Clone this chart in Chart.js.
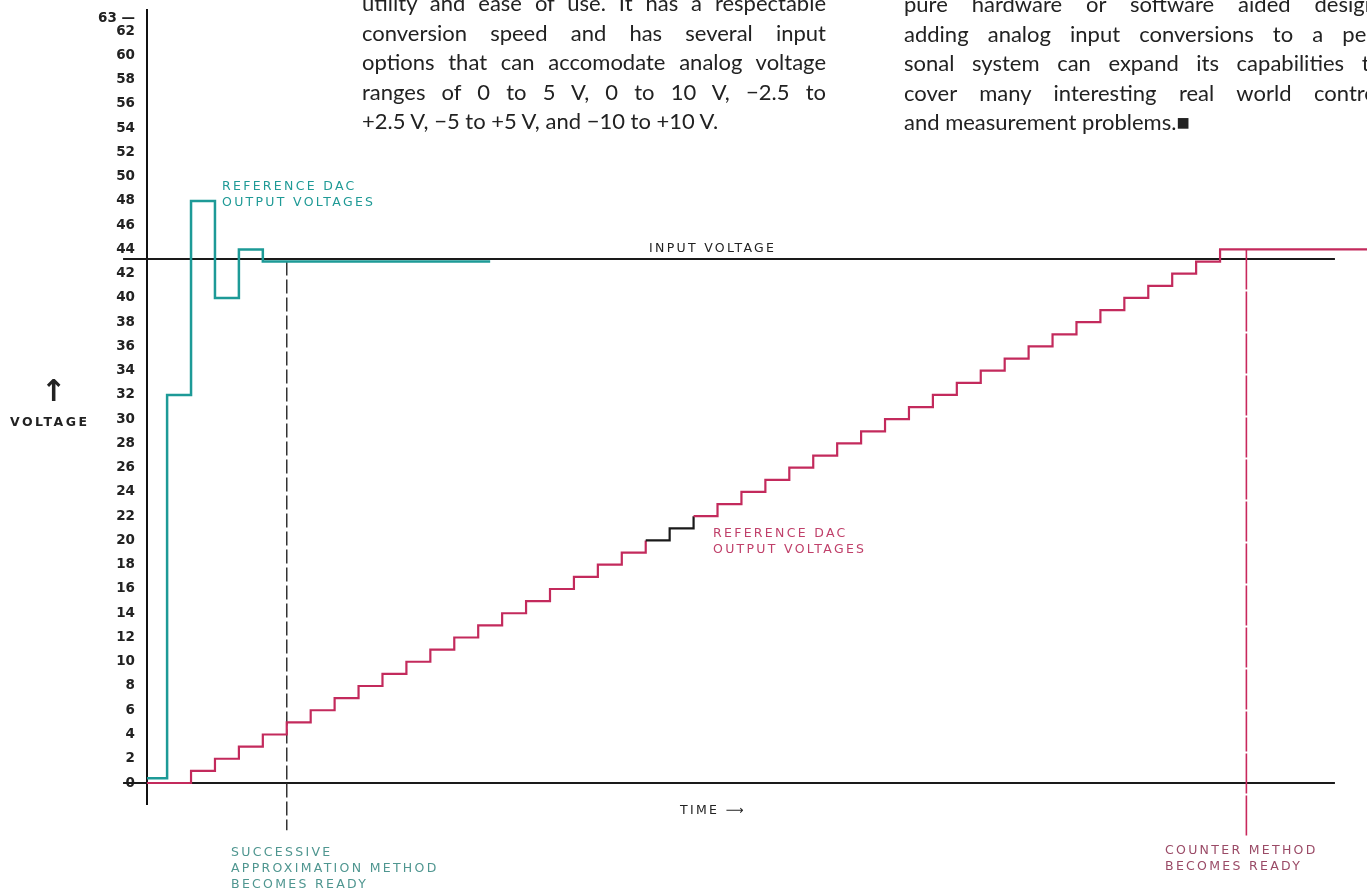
<!DOCTYPE html>
<html>
<head>
<meta charset="utf-8">
<script src="https://cdn.jsdelivr.net/npm/chart.js@4/dist/chart.umd.min.js"></script>
<style>
  html, body { margin: 0; padding: 0; background: #fff; }
  body { width: 1367px; height: 891px; overflow: hidden; position: relative; }
  canvas { position: absolute; left: 0; top: 0; }
  .lbl { position: absolute; font-family: "DejaVu Sans", sans-serif; font-size: 12.5px; letter-spacing: 2.3px; line-height: 16px; white-space: nowrap; }
  .body { position: absolute; font-family: "Lato", sans-serif; font-size: 22px; line-height: 29.5px; color: #222; }
  .body div { text-align: justify; text-align-last: justify; white-space: nowrap; }
  .body div.last { text-align-last: left; }
</style>
</head>
<body>
<canvas id="c" width="1367" height="891"></canvas>

<div class="body" style="left:362px; top:-12px; width:464px;">
  <div>utility and ease of use. It has a respectable</div>
  <div>conversion speed and has several input</div>
  <div>options that can accomodate analog voltage</div>
  <div>ranges of 0 to 5 V, 0 to 10 V, &minus;2.5 to</div>
  <div class="last">+2.5 V, &minus;5 to +5 V, and &minus;10 to +10 V.</div>
</div>
<div class="body" style="left:904px; top:-11px; width:478px;">
  <div>pure hardware or software aided design,</div>
  <div>adding analog input conversions to a per-</div>
  <div>sonal system can expand its capabilities to</div>
  <div>cover many interesting real world control</div>
  <div class="last">and measurement problems.&#9632;</div>
</div>

<div class="lbl" style="left:222px; top:178px; color:#1f9a96;">REFERENCE DAC<br>OUTPUT VOLTAGES</div>
<div class="lbl" style="left:649px; top:240px; color:#222;">INPUT VOLTAGE</div>
<div class="lbl" style="left:713px; top:525px; color:#c0406a;">REFERENCE DAC<br>OUTPUT VOLTAGES</div>
<div class="lbl" style="left:680px; top:802px; color:#222;">TIME &#10230;</div>
<div class="lbl" style="left:10px; top:414px; color:#222; font-weight:bold; letter-spacing:2.5px;">VOLTAGE</div>
<div class="lbl" style="left:41px; top:374px; color:#222; font-size:30px; line-height:34px; letter-spacing:0; font-weight:bold;">&#8593;</div>
<div class="lbl" style="left:231px; top:844px; color:#4f9690;">SUCCESSIVE<br>APPROXIMATION METHOD<br>BECOMES READY</div>
<div class="lbl" style="left:1165px; top:842px; color:#9a4a66;">COUNTER METHOD<br>BECOMES READY</div>

<script>
// ---- data (time in DAC clock steps, value in volts) ----
const yTickValues = [0,2,4,6,8,10,12,14,16,18,20,22,24,26,28,30,32,34,36,38,40,42,44,46,48,50,52,54,56,58,60,62,63];

// Successive approximation: reference DAC output voltages
const saTimes  = [-0.84, 0, 1, 2, 3, 4, 13.5];
const saVolts  = [0.4, 32, 48, 40, 44, 43, 43];

// Counter method: reference DAC output voltages (staircase)
const ctTimes = [-0.84,1,2,3,4,5,6,7,8,9,10,11,12,13,14,15,16,17,18,19,20,21,22,23,24,25,26,27,28,29,30,31,32,33,34,35,36,37,38,39,40,41,42,43,44,50.14];
const ctVolts = [0,1,2,3,4,5,6,7,8,9,10,11,12,13,14,15,16,17,18,19,20,21,22,23,24,25,26,27,28,29,30,31,32,33,34,35,36,37,38,39,40,41,42,43,44,44];

// Input voltage and the time axis
const inputTimes = [-1.84, 48.8];
const inputVolts = [43.2, 43.2];
const axisTimes  = [-1.84, 48.8];
const axisVolts  = [0, 0];

// "becomes ready" markers
const saReadyTimes = [5, 5];
const saReadyVolts = [43, -3.9];
const ctReadyTimes = [45.1, 45.1];
const ctReadyVolts = [44, -4.5];

const TEAL = '#1d9a97';
const CRIMSON = '#c32a5c';

function pts(xs, ys) { return xs.map((x, i) => ({ x: x, y: ys[i] })); }

new Chart(document.getElementById('c'), {
  type: 'line',
  data: {
    datasets: [
      { data: pts(axisTimes, axisVolts), borderColor: '#1a1a1a', borderWidth: 2, pointRadius: 0, clip: false, order: 5 },
      { data: pts(inputTimes, inputVolts), borderColor: '#1a1a1a', borderWidth: 2, pointRadius: 0, clip: false, order: 4 },
      { data: pts(saTimes, saVolts), borderColor: TEAL, borderWidth: 2.5, pointRadius: 0, stepped: true, clip: false, order: 1 },
      { data: pts(ctTimes, ctVolts), borderColor: CRIMSON, borderWidth: 2.2, pointRadius: 0, stepped: true, clip: false, order: 0,
        segment: { borderColor: c => (c.p0.parsed.x >= 20 && c.p0.parsed.x < 22) ? '#1a1a1a' : CRIMSON } },
      { data: pts(saReadyTimes, saReadyVolts), borderColor: '#333', borderWidth: 1.5, borderDash: [14, 4], pointRadius: 0, clip: false, order: 3 },
      { data: pts(ctReadyTimes, ctReadyVolts), borderColor: '#c8285c', borderWidth: 1.6, borderDash: [40, 2], pointRadius: 0, clip: false, order: 2 }
    ]
  },
  options: {
    responsive: false,
    animation: false,
    devicePixelRatio: 1,
    layout: { padding: { top: 10, bottom: 87, left: 0, right: 0 } },
    plugins: { legend: { display: false }, tooltip: { enabled: false } },
    scales: {
      x: { type: 'linear', min: -0.84, max: 50.14, display: false },
      y: {
        type: 'linear', min: -1.73, max: 63.74,
        afterFit: s => { s.width = 147; s.paddingTop = 0; s.paddingBottom = 0; },
        afterBuildTicks: s => { s.ticks = yTickValues.map(v => ({ value: v })); },
        grid: { display: false, drawTicks: false },
        border: { display: true, color: '#111', width: 2 },
        ticks: {
          autoSkip: false, padding: 12, color: '#222',
          font: { family: 'DejaVu Sans', size: 13.5, weight: 'bold' },
          callback: v => v === 63 ? '63 \u2014' : String(v)
        }
      }
    }
  }
});
</script>
</body>
</html>
